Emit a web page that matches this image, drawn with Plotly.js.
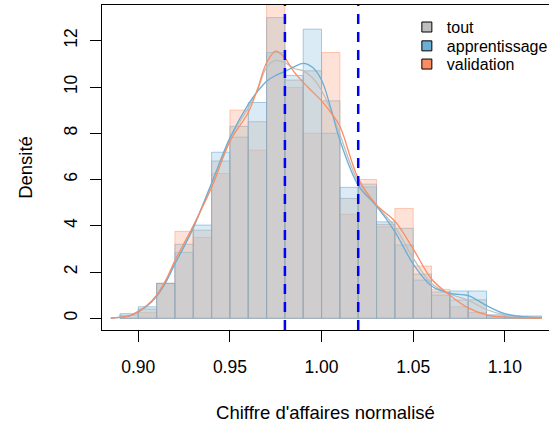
<!DOCTYPE html>
<html>
<head>
<meta charset="utf-8">
<script src="https://cdn.plot.ly/plotly-3.0.1.min.js"></script>
<style>html,body{margin:0;padding:0;background:#fff;}#chart{width:549px;height:423px;}</style>
</head>
<body>
<div id="chart"></div>
<script>
// Histogram bins (left edges, width 0.01)
var binStart = [0.89,0.90,0.91,0.92,0.93,0.94,0.95,0.96,0.97,0.98,0.99,1.00,1.01,1.02,1.03,1.04,1.05,1.06,1.07,1.08,1.09,1.10,1.11];
var binWidth = 0.01;
var histTout  = [0.13,0.40,1.51,3.20,3.81,6.80,8.30,8.50,13.00,10.30,10.70,9.40,5.18,5.80,4.06,3.89,1.91,1.14,0.79,0.80,0.10,0.06,0.06];
var histApp   = [0.20,0.50,1.51,2.85,4.03,7.18,7.83,9.33,11.49,10.50,12.50,8.00,5.66,5.68,4.17,3.17,1.65,1.00,1.18,1.18,0.15,0.10,0.10];
var histValid = [0.00,0.26,1.51,3.76,3.50,6.26,9.00,7.27,15.20,9.98,8.00,11.49,4.50,6.00,3.96,4.75,2.26,1.25,0.50,0.25,0.05,0.00,0.00];

// Density curves
var densX     = [0.885,0.89,0.895,0.90,0.905,0.91,0.915,0.92,0.925,0.93,0.94,0.95,0.96,0.965,0.97,0.975,0.98,0.985,0.99,0.995,1.00,1.005,1.01,1.02,1.03,1.04,1.05,1.06,1.07,1.08,1.09,1.10,1.11,1.12];
var densApp   = [0.01,0.04,0.10,0.28,0.55,0.95,1.55,2.35,3.10,3.90,5.85,7.80,9.25,9.80,10.25,10.50,10.68,10.87,11.02,10.85,10.30,9.10,7.70,5.75,4.85,3.75,2.35,1.40,1.08,0.98,0.55,0.20,0.07,0.02];
var densValid = [0.01,0.04,0.10,0.30,0.58,1.00,1.65,2.50,3.25,4.00,5.65,7.65,8.90,9.90,11.05,11.55,11.25,10.65,10.20,9.80,9.40,8.90,8.30,6.05,4.90,4.20,3.00,1.70,1.00,0.45,0.15,0.05,0.02,0.01];
var densTout  = [0.01,0.04,0.10,0.29,0.56,0.97,1.60,2.40,3.15,3.95,5.78,7.75,9.10,9.85,10.85,11.15,11.05,10.80,10.70,10.40,9.85,9.00,7.95,5.90,4.87,3.95,2.60,1.50,1.05,0.78,0.38,0.14,0.05,0.02];

var vlines = [0.98, 1.02];
var xTicks = [0.90,0.95,1.00,1.05,1.10];
var xTickText = ["0.90","0.95","1.00","1.05","1.10"];
var yTicks = [0,2,4,6,8,10,12];
var seriesNames = ["tout","apprentissage","validation"];

var cGray = "rgb(190,190,190)", cBlue = "rgb(107,174,214)", cOrange = "rgb(252,141,98)";

function histTrace(y, fill, line) {
  return {type:"bar", x:binStart, y:y, width:binWidth, offset:0,
    marker:{color:fill, line:{color:line, width:1}}, showlegend:false, hoverinfo:"skip"};
}
function densTrace(y, col) {
  return {type:"scatter", mode:"lines", x:densX, y:y, line:{color:col, width:1.3, shape:"spline"},
    showlegend:false, hoverinfo:"skip"};
}
function legTrace(name, col, leg) {
  return {type:"scatter", mode:"markers", x:[null], y:[null], name:name, legend:leg,
    marker:{symbol:"square", size:10, color:col, line:{color:"#000", width:1}}};
}

var data = [
  histTrace(histValid, "rgba(252,141,98,0.25)", "rgba(252,141,98,0.45)"),
  histTrace(histApp, "rgba(107,174,214,0.25)", "rgba(107,174,214,0.6)"),
  histTrace(histTout, "rgba(195,195,195,0.45)", "rgba(150,165,180,0.55)"),
  densTrace(densTout, cGray),
  densTrace(densApp, cBlue),
  densTrace(densValid, cOrange),
  legTrace(seriesNames[0], cGray, "legend"),
  legTrace(seriesNames[1], cBlue, "legend2"),
  legTrace(seriesNames[2], cOrange, "legend3")
];

var shapes = vlines.map(function(v){
  return {type:"line", xref:"x", yref:"paper", x0:v, x1:v, y0:0, y1:1,
    line:{color:"#0000FF", width:2.5, dash:"10px,8px"}};
});

function leg(y) {
  return {x:0.682, y:y, xanchor:"left", yanchor:"middle", bgcolor:"rgba(0,0,0,0)",
    font:{size:16}, itemwidth:30};
}

var layout = {
  width:549, height:423,
  margin:{l:102, r:0, t:5, b:93, autoexpand:false},
  paper_bgcolor:"#fff", plot_bgcolor:"#fff",
  barmode:"overlay", bargap:0,
  font:{family:"Liberation Sans, Arial, sans-serif", size:17.5, color:"#000"},
  xaxis:{range:[0.8802,1.1241], tickvals:xTicks, ticktext:xTickText, ticks:"outside", ticklen:11,
    tickcolor:"#000", showgrid:false, zeroline:false, showline:true, mirror:true, linecolor:"#000", linewidth:1,
    ticklabelstandoff:10, tickfont:{size:17.5},
    title:{text:"Chiffre d'affaires normalisé", font:{size:18.5}, standoff:30}},
  yaxis:{range:[-0.506,13.545], tickvals:yTicks, ticks:"outside", ticklen:11, tickangle:-90,
    tickcolor:"#000", showgrid:false, zeroline:false, showline:true, linecolor:"#000", linewidth:1,
    ticklabelstandoff:6, tickfont:{size:17.5},
    title:{text:"Densité", font:{size:18.5}, standoff:23}},
  legend:leg(0.932),
  legend2:leg(0.874),
  legend3:leg(0.818),
  shapes:shapes,
  showlegend:true
};

Plotly.newPlot("chart", data, layout, {staticPlot:true, displayModeBar:false});
</script>
</body>
</html>
